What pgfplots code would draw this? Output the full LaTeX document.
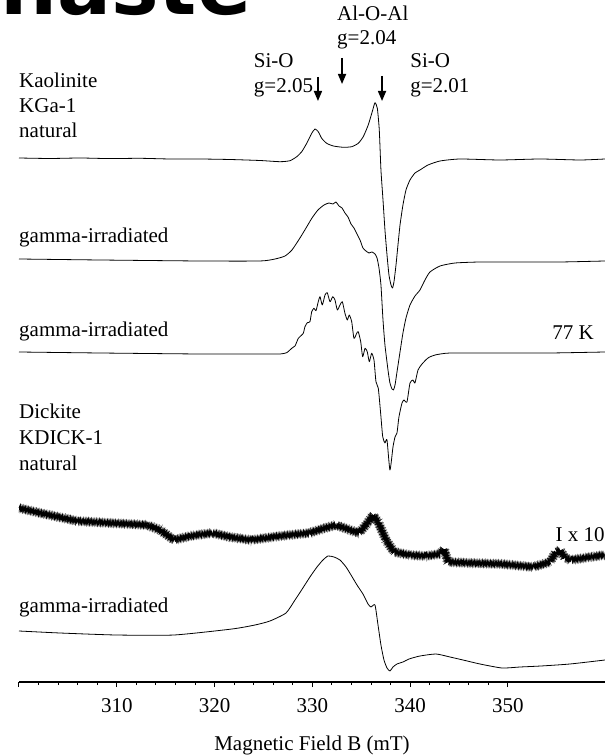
\documentclass[border=0pt]{standalone}
\usepackage{fontspec}
\setmainfont{Liberation Serif}
\newfontfamily\wmfont{DejaVu Sans}
\usepackage{pgfplots}
\pgfplotsset{compat=1.18}
\usetikzlibrary{arrows.meta, decorations.pathmorphing}

% y values: trace offsets in picture units (negative = down the page)
\pgfplotstableread{
B y
300.00 -158
303.17 -158.5
306.24 -158
309.30 -158.6
312.37 -158.3
315.44 -159
318.51 -159
321.57 -159.5
324.64 -160.5
326.69 -161.7
327.71 -160.7
328.40 -156.7
328.91 -151.7
329.42 -143.3
329.93 -133.3
330.27 -129
330.60 -131.7
330.95 -138.3
331.46 -143.3
332.14 -146
333.16 -147.3
334.02 -146.7
334.69 -143.3
335.20 -136.7
335.71 -125
336.17 -110
336.40 -102.7
336.64 -108.3
336.84 -130
337.01 -170
337.22 -200
337.42 -230
337.63 -255
337.83 -275
338.04 -285
338.19 -288
338.34 -282
338.55 -265
338.75 -245
338.96 -225
339.26 -205
339.57 -190
339.98 -180
340.49 -173
341.00 -170
341.82 -165
343.05 -161
345.09 -159
349.18 -160
353.27 -159
357.36 -160
359.92 -159
}\kaonat

\pgfplotstableread{
B y
300.00 -259
308.28 -260
318.51 -261
324.64 -261
326.18 -259
327.20 -256
327.91 -250
328.73 -238
329.35 -228
329.96 -218
330.57 -210
331.19 -205
331.70 -203
332.11 -204
332.41 -202
332.72 -206
333.03 -208
333.33 -213
333.64 -217
333.95 -224
334.25 -228
334.56 -234
334.87 -240
335.17 -248
335.48 -251
335.79 -253
336.09 -252
336.40 -254
336.61 -258
336.81 -268
337.01 -285
337.22 -320
337.42 -345
337.73 -370
337.93 -383
338.14 -389
338.29 -390
338.45 -385
338.65 -372
338.96 -352
339.26 -333
339.57 -318
339.98 -305
340.49 -296
341.00 -290
341.51 -280
342.02 -272
343.05 -266
344.58 -263
347.14 -262
351.23 -262
355.32 -262
359.92 -261
}\kaogam

\pgfplotstableread{
B y
300.00 -352
308.28 -353
318.51 -354
324.64 -354
326.69 -354
327.37 -352.7
327.89 -348.3
328.22 -346
328.56 -338.3
328.80 -336
329.07 -333.3
329.24 -326.7
329.48 -322.7
329.75 -321.7
329.93 -311.7
330.16 -308.3
330.37 -310.7
330.60 -301.7
330.78 -296.7
331.01 -305
331.29 -295
331.52 -292.7
331.80 -301.7
332.08 -296.7
332.31 -300
332.55 -310
332.82 -305
333.06 -301.7
333.33 -313.3
333.57 -320
333.77 -315
334.02 -321.7
334.25 -338.3
334.53 -333.3
334.69 -331.7
334.94 -341.7
335.14 -356.7
335.38 -348.3
335.61 -351.7
335.82 -361.7
336.06 -353.3
336.30 -360
336.50 -381.7
336.74 -388.3
336.98 -413.3
337.19 -436.7
337.42 -443
337.63 -440
337.93 -470
338.24 -447
338.45 -437
338.65 -433
338.85 -417
339.16 -403
339.37 -400
339.67 -402
339.98 -383
340.29 -380
340.49 -383
340.80 -370
341.21 -364
341.82 -358
342.54 -355
344.07 -353
349.18 -353
354.29 -353
359.92 -352
}\kaocold

\pgfplotstableread{
B y
300.00 -508
302.15 -513
305.93 -521
309.30 -523
313.09 -525
314.42 -530
315.85 -540
317.48 -536
319.73 -533
321.57 -537
323.72 -540
326.69 -536
329.65 -533
331.29 -528
332.41 -525
333.84 -530
334.77 -533
335.48 -525
336.20 -515
336.71 -522
337.53 -540
338.34 -552
339.98 -555
341.51 -556
343.05 -554
343.46 -549
343.87 -562
346.11 -563
349.39 -564
352.56 -567
354.29 -562
354.91 -552
355.32 -550
355.83 -558
356.44 -560
358.38 -557
359.92 -555
}\dicnat

\pgfplotstableread{
B y
300.00 -631
304.19 -633
309.92 -635
315.85 -635
321.78 -629
324.13 -625
325.66 -621
327.30 -613
328.22 -600
328.83 -591
329.75 -577
330.47 -567
331.08 -560
331.60 -556
332.21 -557
332.82 -560
333.44 -567
333.95 -575
334.56 -585
335.17 -594
335.69 -604
335.99 -607
336.40 -605
336.71 -625
337.01 -645
337.32 -660
337.63 -668
337.93 -671
338.24 -667
338.65 -664
339.26 -662
339.88 -659
341.00 -656
342.64 -654
344.07 -657
345.40 -660
347.14 -664
349.39 -668
351.23 -667
353.37 -666
356.34 -664
359.92 -660
}\dicgam

\begin{document}
\begin{tikzpicture}
\begin{axis}[
  name=ax,
  scale only axis, width=586pt, height=682pt,
  xmin=300, xmax=359.92, ymin=-682, ymax=0,
  clip=false,
  axis x line*=bottom, axis y line=none,
  axis line style={line width=1.2pt, -},
  xtick={300,310,...,350},
  xticklabels={,310,320,330,340,350},
  minor x tick num=4,
  tick align=outside,
  major tick length=5pt, minor tick length=3pt,
  tick style={line width=1pt, black},
  x tick label style={font=\fontsize{21}{25}\selectfont},
  xticklabel shift=8pt,
  xlabel={Magnetic Field B (mT)},
  xlabel style={font=\fontsize{21}{25}\selectfont, at={(axis description cs:0.5,0)}, anchor=base, yshift=-68pt},
  trace/.style={black, no markers, line width=0.8pt, line join=round, smooth, tension=0.35},
  noise/.style={black, no markers, decorate},
]
\addplot[trace] table {\kaonat};
\addplot[trace] table {\kaogam};
\addplot[trace] table {\kaocold};
\addplot[noise, line width=0.6pt, decoration={zigzag, segment length=1.1pt, amplitude=2.2pt}] table {\dicnat};
\addplot[noise, line width=0.5pt, decoration={zigzag, segment length=2.7pt, amplitude=3.8pt}] table {\dicnat};
\addplot[noise, line width=0.5pt, decoration={zigzag, segment length=4.3pt, amplitude=2.8pt}] table {\dicnat};
\addplot[trace] table {\dicgam};

\begin{scope}[every node/.style={inner sep=0pt, font=\fontsize{21}{25}\selectfont}]
\node[anchor=base west] at (axis cs:300,-88) {Kaolinite};
\node[anchor=base west] at (axis cs:300,-113) {KGa-1};
\node[anchor=base west] at (axis cs:300,-138) {natural};
\node[anchor=base west] at (axis cs:300,-243) {gamma-irradiated};
\node[anchor=base west] at (axis cs:300,-337) {gamma-irradiated};
\node[anchor=base east] at (axis cs:358.8,-340) {77 K};
\node[anchor=base west] at (axis cs:300,-419) {Dickite};
\node[anchor=base west] at (axis cs:300,-445) {KDICK-1};
\node[anchor=base west] at (axis cs:300,-471) {natural};
\node[anchor=base east] at (axis cs:359.9,-542) {I x 10};
\node[anchor=base west] at (axis cs:300,-612) {gamma-irradiated};
\node[anchor=base west] at (axis cs:332.52,-21) {Al-O-Al};
\node[anchor=base west] at (axis cs:332.52,-45) {g=2.04};
\node[anchor=base west] at (axis cs:324.0,-68) {Si-O};
\node[anchor=base west] at (axis cs:324.0,-93) {g=2.05};
\node[anchor=base west] at (axis cs:340.0,-68) {Si-O};
\node[anchor=base west] at (axis cs:340.0,-93) {g=2.01};
\end{scope}
\begin{scope}[line width=1.6pt, -{Triangle[width=8pt,length=10pt]}]
\draw (axis cs:330.57,-77) -- (axis cs:330.57,-101);
\draw (axis cs:333.03,-58) -- (axis cs:333.03,-84);
\draw (axis cs:337.12,-76) -- (axis cs:337.12,-101);
\end{scope}
\node[anchor=base west, inner sep=0pt, font=\wmfont\bfseries\fontsize{80}{80}\selectfont] at (axis cs:298.06,-15) {naste};
\end{axis}
\pgfresetboundingbox
\path[use as bounding box] ([xshift=-19pt,yshift=-73pt]ax.south west) rectangle (ax.north east);
\end{tikzpicture}
\end{document}
